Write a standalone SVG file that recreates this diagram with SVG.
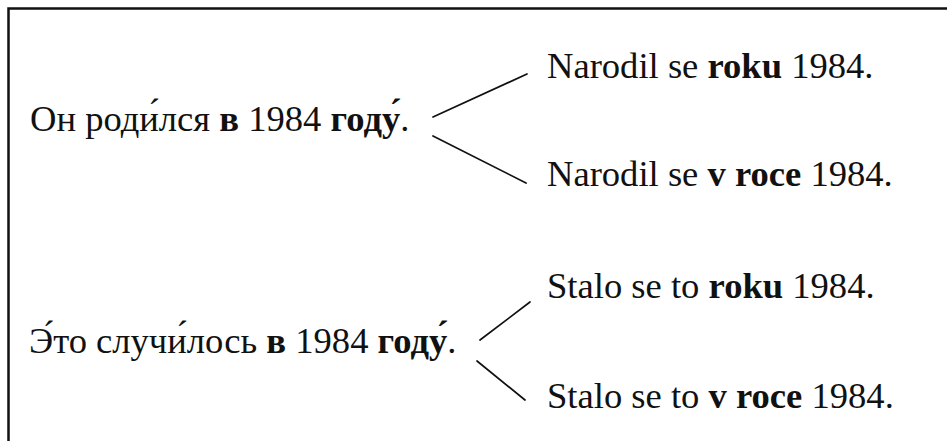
<svg xmlns="http://www.w3.org/2000/svg" width="947" height="441" viewBox="0 0 947 441">
<style>
text{font-family:"Liberation Serif","Times New Roman",serif;font-size:36.6px;fill:#111}
.b{font-weight:bold}
.c{stroke:#111;stroke-width:1.7;fill:none;stroke-linecap:round}
</style>
<rect x="0" y="0" width="947" height="441" fill="#fff"/>
<path d="M8.5 460 V8.5 H960" fill="none" stroke="#111" stroke-width="2.5"/>
<g id="ru1"><text x="30" y="131">Он роди́лся <tspan class="b">в</tspan> 1984 <tspan class="b">году́</tspan>.</text></g>
<g id="cz1a"><text x="547" y="78">Narodil se <tspan class="b">roku</tspan> 1984.</text></g>
<g id="cz1b"><text x="547" y="186">Narodil se <tspan class="b">v roce</tspan> 1984.</text></g>
<g id="ru2"><text x="29" y="353">Э́то случи́лось <tspan class="b">в</tspan> 1984 <tspan class="b">году́</tspan>.</text></g>
<g id="cz2a"><text x="547" y="298">Stalo se to <tspan class="b">roku</tspan> 1984.</text></g>
<g id="cz2b"><text x="547" y="408">Stalo se to <tspan class="b">v roce</tspan> 1984.</text></g>
<g id="connectors">
<line class="c" x1="433" y1="117" x2="527" y2="74"/>
<line class="c" x1="433" y1="136" x2="526" y2="183"/>
<line class="c" x1="480" y1="340" x2="530" y2="302"/>
<line class="c" x1="477" y1="361" x2="525" y2="400"/>
</g>
</svg>
